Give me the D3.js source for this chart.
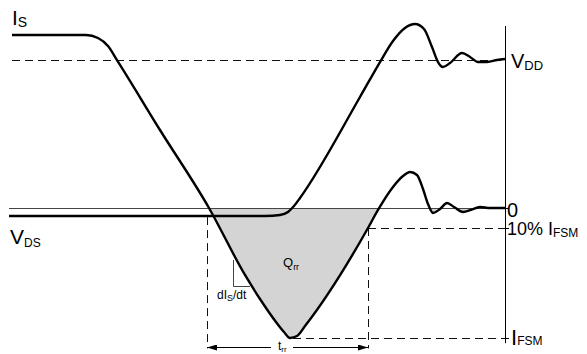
<!DOCTYPE html>
<html><head><meta charset="utf-8">
<script src="https://cdn.jsdelivr.net/npm/d3@7"></script>
<style>
html,body{margin:0;padding:0;background:#fff;}
svg{display:block;}
text{font-family:"Liberation Sans",Arial,Helvetica,sans-serif;fill:#000;}
</style></head>
<body>
<script>
// ---- data (time in arbitrary units 0..100, level in units of I_FSM) ----
const isTime  = [1.4,16.2,18.6,20.6,22.4,31.0,40.8,48.0,51.4,54.2,55.8,57.0,58.4,60.0,72.6,74.6,77.6,79.6,81.0,82.4,83.6,84.6,85.6,87.0,88.4,89.8,91.6,93.2,95.0,97.0,100];
const isValue = [1.331,1.331,1.308,1.246,1.138,0.6,0,-0.515,-0.723,-0.877,-0.954,-1.0,-0.985,-0.908,-0.154,-0.015,0.162,0.246,0.277,0.254,0.146,0.031,-0.038,-0.008,0.038,0.008,-0.031,-0.015,0.008,0,0];
const vdsTime  = [0.8,52.0,55.0,56.6,57.8,59.0,71.0,75.0,77.6,80.0,82.0,83.8,85.4,86.6,87.6,89.0,91.4,93.0,94.6,96.4,98.4,100];
const vdsValue = [-0.062,-0.062,-0.054,-0.031,0.015,0.077,0.854,1.123,1.285,1.385,1.415,1.377,1.238,1.123,1.085,1.115,1.192,1.162,1.123,1.123,1.138,1.146];
const levelVDD = 1.138, levelZero = 0, levelTen = -0.154, levelFSM = -1.0;
const trrStart = 40.4, trrEnd = 72.6, trrY = -1.069;
const axisTop = 1.4, axisBottom = -1.04;

const W = 587, H = 354;
const x = d3.scaleLinear().domain([0,100]).range([5,505]);
const y = d3.scaleLinear().domain([-1,0]).range([338,208]);
const c = v => Math.round(v) + 0.5; // crisp 1px lines

const svg = d3.select("body").append("svg").attr("width",W).attr("height",H);
const defs = svg.append("defs");
defs.append("marker").attr("id","ah").attr("viewBox","0 0 10 6").attr("refX",10).attr("refY",3)
  .attr("markerWidth",10).attr("markerHeight",6).attr("markerUnits","userSpaceOnUse").attr("orient","auto-start-reverse")
  .append("path").attr("d","M0,0L10,3L0,6Z").attr("fill","#000");
defs.append("clipPath").attr("id","below").append("rect")
  .attr("x",0).attr("y",y(levelZero)).attr("width",W).attr("height",H);

const isPts = isTime.map((t,i)=>[t,isValue[i]]);
const vdsPts = vdsTime.map((t,i)=>[t,vdsValue[i]]);
const curve = d3.curveMonotoneX;

// shaded Qrr area
svg.append("path").datum(isPts).attr("clip-path","url(#below)")
  .attr("d", d3.area().x(d=>x(d[0])).y0(y(levelZero)).y1(d=>y(d[1])).curve(curve))
  .attr("fill","#d4d4d4");

const dash = "8,5", dcol = "#111";
function hline(x1,x2,yy,style){
  const l = svg.append("line").attr("x1",x1).attr("x2",x2).attr("y1",c(yy)).attr("y2",c(yy)).attr("stroke",dcol);
  if(style) l.attr("stroke-dasharray",style);
  return l;
}
function vline(xx,y1,y2,style){
  const l = svg.append("line").attr("x1",c(xx)).attr("x2",c(xx)).attr("y1",y1).attr("y2",y2).attr("stroke",dcol);
  if(style) l.attr("stroke-dasharray",style);
  return l;
}
// dashed reference lines
hline(x(1.4), x(100), y(levelVDD), dash);
hline(x(trrEnd), x(100), y(levelTen), dash);
hline(x(57.6), x(100), y(levelFSM), dash);
vline(x(trrStart), y(-0.07), y(-1.08), dash);
vline(x(trrEnd), y(levelTen), y(-1.08), dash);

// zero line
hline(x(0.8), x(100), y(levelZero)).attr("stroke","#444");

// vertical axis + ticks
vline(x(100), y(axisTop), y(axisBottom)).attr("stroke","#000");
[levelZero, levelTen, levelFSM].forEach(v=>{ hline(x(100), x(100)+4, y(v)).attr("stroke","#000"); });

// dI/dt triangle
svg.append("path").attr("d",`M${c(x(45.6))},${y(-0.4)}L${c(x(45.6))},${c(y(-0.6))}L${x(49.0)},${c(y(-0.6))}`)
  .attr("fill","none").attr("stroke","#444").attr("stroke-width",1);

// curves
const line = d3.line().x(d=>x(d[0])).y(d=>y(d[1])).curve(curve);
svg.append("path").datum(vdsPts).attr("d",line).attr("fill","none").attr("stroke","#000").attr("stroke-width",2.4);
svg.append("path").datum(isPts).attr("d",line).attr("fill","none").attr("stroke","#000").attr("stroke-width",2.4);

// trr arrow
svg.append("line").attr("x1",x(trrStart)).attr("x2",x(trrEnd)).attr("y1",c(y(trrY))).attr("y2",c(y(trrY)))
  .attr("stroke","#000").attr("stroke-width",1.2)
  .attr("marker-start","url(#ah)").attr("marker-end","url(#ah)");
svg.append("rect").attr("x",271).attr("y",y(trrY)-4).attr("width",22).attr("height",10).attr("fill","#fff");

function label(px,py,main,sub,size,subSize,dy){
  const t = svg.append("text").attr("x",px).attr("y",py).style("font-size",size+"px");
  t.append("tspan").text(main);
  if(sub) t.append("tspan").attr("dy",dy).style("font-size",subSize+"px").text(sub);
  return t;
}
label(12,25,"I","S",21,14,2);
label(511,68,"V","DD",20,13,2);
label(10,244,"V","DS",21,12,3);
label(507,217,"0",null,20);
label(507,235,"10% I","FSM",18,12,2);
label(511,345,"I","FSM",22,12,0);
label(283,267,"Q","rr",13,9,3);
label(217,299,"dI","S",12,9,2).append("tspan").attr("dy",-2).style("font-size","12px").text("/dt");
label(278,350,"t","rr",12,8,1.5);
</script>
</body></html>
